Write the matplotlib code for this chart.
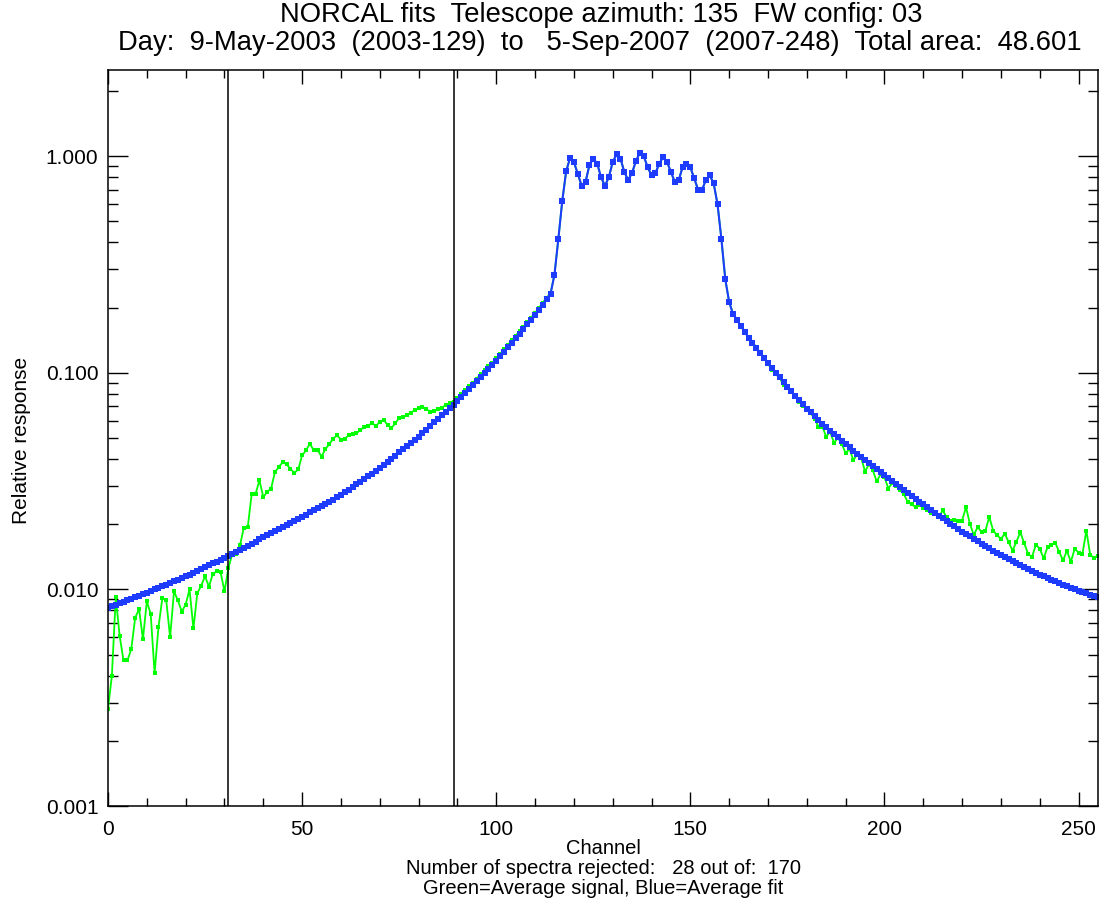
import numpy as np
import matplotlib
matplotlib.use("Agg")
import matplotlib.pyplot as plt
from matplotlib.ticker import FixedLocator, FixedFormatter, LogLocator, NullFormatter

plt.rcParams['font.family'] = ['Liberation Sans', 'DejaVu Sans']

# Channel axis
channels = np.arange(256)

# Average fit (blue), one value per channel
avg_fit = [
    0.00822, 0.00836, 0.00849, 0.00863, 0.00877, 0.00891, 0.00906, 0.00920, 0.00935, 0.00951,
    0.00966, 0.00983, 0.01000, 0.01017, 0.01035, 0.01053, 0.01072, 0.01090, 0.01109, 0.01129,
    0.01148, 0.01171, 0.01194, 0.01218, 0.01242, 0.01266, 0.01291, 0.01317, 0.01343, 0.01369,
    0.01396, 0.01427, 0.01459, 0.01491, 0.01524, 0.01558, 0.01592, 0.01627, 0.01663, 0.01700,
    0.01738, 0.01776, 0.01816, 0.01856, 0.01897, 0.01939, 0.01982, 0.02025, 0.02070, 0.02116,
    0.02163, 0.02213, 0.02265, 0.02317, 0.02371, 0.02427, 0.02483, 0.02541, 0.02600, 0.02661,
    0.02723, 0.02802, 0.02884, 0.02968, 0.03055, 0.03144, 0.03236, 0.03330, 0.03428, 0.03528,
    0.03631, 0.03754, 0.03882, 0.04013, 0.04150, 0.04290, 0.04436, 0.04587, 0.04742, 0.04903,
    0.05070, 0.05266, 0.05470, 0.05682, 0.05902, 0.06131, 0.06368, 0.06615, 0.06871, 0.07137,
    0.07413, 0.07736, 0.08072, 0.08424, 0.08790, 0.09173, 0.09572, 0.09989, 0.10423, 0.10877,
    0.11350, 0.11912, 0.12503, 0.13122, 0.13772, 0.14454, 0.15171, 0.15922, 0.16711, 0.17539,
    0.18408, 0.19498, 0.20654, 0.21878, 0.23174, 0.284, 0.415, 0.62, 0.85, 0.98,
    0.94, 0.83, 0.73, 0.76, 0.91, 0.975, 0.925, 0.80, 0.73, 0.80,
    0.94, 1.02, 0.975, 0.845, 0.775, 0.84, 0.95, 1.04, 1.00, 0.89,
    0.815, 0.835, 0.925, 0.99, 0.94, 0.845, 0.76, 0.775, 0.89, 0.925,
    0.89, 0.79, 0.70, 0.70, 0.775, 0.815, 0.75, 0.60, 0.414, 0.27,
    0.212, 0.18621, 0.17498, 0.16444, 0.15453, 0.14521, 0.13758, 0.13038, 0.12350, 0.11705,
    0.11092, 0.10544, 0.10023, 0.09528, 0.09057, 0.08610, 0.08222, 0.07852, 0.07499, 0.07161,
    0.06839, 0.06570, 0.06313, 0.06065, 0.05827, 0.05598, 0.05401, 0.05210, 0.05027, 0.04850,
    0.04677, 0.04525, 0.04377, 0.04234, 0.04096, 0.03963, 0.03837, 0.03715, 0.03597, 0.03483,
    0.03373, 0.03267, 0.03165, 0.03066, 0.02970, 0.02877, 0.02790, 0.02705, 0.02623, 0.02543,
    0.02466, 0.02394, 0.02325, 0.02257, 0.02192, 0.02128, 0.02069, 0.02012, 0.01956, 0.01902,
    0.01849, 0.01801, 0.01755, 0.01709, 0.01665, 0.01622, 0.01584, 0.01546, 0.01510, 0.01474,
    0.01439, 0.01408, 0.01378, 0.01349, 0.01320, 0.01291, 0.01266, 0.01241, 0.01217, 0.01193,
    0.01169, 0.01148, 0.01128, 0.01108, 0.01088, 0.01069, 0.01052, 0.01035, 0.01019, 0.01002,
    0.00986, 0.00972, 0.00958, 0.00945, 0.00932, 0.00918,
]

# Average signal (green), one value per channel
avg_signal = [
    0.0028, 0.0040, 0.0092, 0.0061, 0.0047, 0.0047, 0.0053, 0.0074, 0.0081, 0.0059,
    0.0088, 0.0077, 0.0041, 0.0067, 0.0091, 0.0089, 0.0060, 0.0098, 0.0089, 0.0079,
    0.0085, 0.0100, 0.0066, 0.0096, 0.0104, 0.0115, 0.0103, 0.0118, 0.0121, 0.0120,
    0.0098, 0.0125, 0.0146, 0.0146, 0.0160, 0.0193, 0.0194, 0.0275, 0.0275, 0.0319,
    0.0267, 0.0282, 0.0292, 0.0348, 0.0367, 0.0387, 0.0378, 0.0360, 0.0345, 0.0358,
    0.0416, 0.0438, 0.0471, 0.0438, 0.0440, 0.0410, 0.0445, 0.0468, 0.0497, 0.0514,
    0.0492, 0.0497, 0.0514, 0.0524, 0.0527, 0.0543, 0.0563, 0.0570, 0.0586, 0.0566,
    0.0595, 0.0606, 0.0575, 0.0555, 0.0585, 0.0618, 0.0622, 0.0638, 0.0655, 0.0672,
    0.0690, 0.0698, 0.0680, 0.0662, 0.0664, 0.0678, 0.0690, 0.0710, 0.0722, 0.0730,
    0.0765, 0.0800, 0.0830, 0.0868, 0.0900, 0.0940, 0.0985, 0.1025, 0.1070, 0.1115,
    0.1165, 0.1220, 0.1285, 0.1345, 0.1415, 0.1480, 0.1560, 0.1630, 0.1715, 0.1800,
    0.1890, 0.1995, 0.2110, 0.2220, 0.2340, 0.284, 0.415, 0.62, 0.85, 0.98,
    0.94, 0.83, 0.73, 0.76, 0.91, 0.975, 0.925, 0.80, 0.73, 0.80,
    0.94, 1.02, 0.975, 0.845, 0.775, 0.84, 0.95, 1.04, 1.00, 0.89,
    0.815, 0.835, 0.925, 0.99, 0.94, 0.845, 0.76, 0.775, 0.89, 0.925,
    0.89, 0.79, 0.70, 0.70, 0.775, 0.815, 0.75, 0.60, 0.414, 0.27,
    0.212, 0.188, 0.176, 0.165, 0.156, 0.146, 0.139, 0.131, 0.1225, 0.117,
    0.110, 0.1035, 0.0985, 0.0950, 0.0875, 0.0848, 0.0820, 0.0780, 0.0735, 0.0705,
    0.0675, 0.0650, 0.0615, 0.0562, 0.0565, 0.0506, 0.0535, 0.0475, 0.0500, 0.0470,
    0.0425, 0.0445, 0.0395, 0.0420, 0.0405, 0.0350, 0.0378, 0.0355, 0.0315, 0.0340,
    0.0330, 0.0292, 0.0310, 0.0300, 0.0287, 0.0275, 0.0253, 0.0247, 0.0240, 0.0245,
    0.0238, 0.0232, 0.0225, 0.0224, 0.0215, 0.0232, 0.0215, 0.0208, 0.0209, 0.0208,
    0.0208, 0.0240, 0.0201, 0.0178, 0.0194, 0.0184, 0.0187, 0.0216, 0.0187, 0.0178,
    0.0171, 0.0181, 0.0165, 0.0151, 0.0166, 0.0184, 0.0163, 0.0146, 0.0141, 0.0161,
    0.0154, 0.0139, 0.0157, 0.0161, 0.0164, 0.0149, 0.0136, 0.0151, 0.0134, 0.0154,
    0.0148, 0.0146, 0.0187, 0.0144, 0.0140, 0.0143,
]

# Channel limits of the fit window
fit_window = [31, 89]

y_ticks = [0.001, 0.01, 0.1, 1.0]
y_tick_labels = ["0.001", "0.010", "0.100", "1.000"]

fig = plt.figure(figsize=(11, 9.01), dpi=100)
W, H = 1100, 901
ax = fig.add_axes([108 / W, 1 - 806 / H, 990 / W, 736 / H])

ax.plot(channels, avg_signal, color="#00ff00", lw=1.3, marker="s", ms=3.3, mew=0)
ax.plot(channels, avg_fit, color="#1e3cff", lw=1.5, marker="s", ms=4.4, mew=0)

for c in fit_window:
    ax.axvline(c, color="black", lw=1.1)

ax.set_yscale("log")
ax.set_xlim(0, 255)
ax.set_ylim(0.001, 2.5)

ax.xaxis.set_major_locator(FixedLocator([0, 50, 100, 150, 200, 250]))
ax.xaxis.set_minor_locator(FixedLocator(np.arange(0, 256, 10)))
ax.yaxis.set_major_locator(FixedLocator(y_ticks))
ax.yaxis.set_major_formatter(FixedFormatter(y_tick_labels))
ax.yaxis.set_minor_locator(LogLocator(base=10, subs=np.arange(2, 10)))
ax.yaxis.set_minor_formatter(NullFormatter())

ax.tick_params(which="both", direction="in", top=True, right=True, color="black", width=1.0)
ax.tick_params(axis="x", which="major", length=10, pad=10, labelsize=15)
ax.tick_params(axis="x", which="minor", length=5.5)
ax.tick_params(axis="y", which="major", length=14.5, pad=7, labelsize=15)
ax.tick_params(axis="y", which="minor", length=7)
for s in ax.spines.values():
    s.set_linewidth(1.1)

fig.text(601 / W, 1 - 15 / H, "NORCAL fits  Telescope azimuth: 135  FW config: 03",
         ha="center", va="center", fontsize=19.7)
fig.text(600 / W, 1 - 43 / H,
         "Day:  9-May-2003  (2003-129)  to   5-Sep-2007  (2007-248)  Total area:  48.601",
         ha="center", va="center", fontsize=19.7)

# footer lines under the x axis
fig.text(603 / W, 1 - 848 / H, "Channel", ha="center", va="center", fontsize=14.5)
fig.text(603 / W, 1 - 868 / H, "Number of spectra rejected:   28 out of:  170",
         ha="center", va="center", fontsize=14.5)
fig.text(603 / W, 1 - 888 / H, "Green=Average signal, Blue=Average fit",
         ha="center", va="center", fontsize=14.5)
fig.text(22 / W, 1 - 440 / H, "Relative response", rotation=90,
         ha="center", va="center", fontsize=15)

fig.savefig("out.png", dpi=100)
